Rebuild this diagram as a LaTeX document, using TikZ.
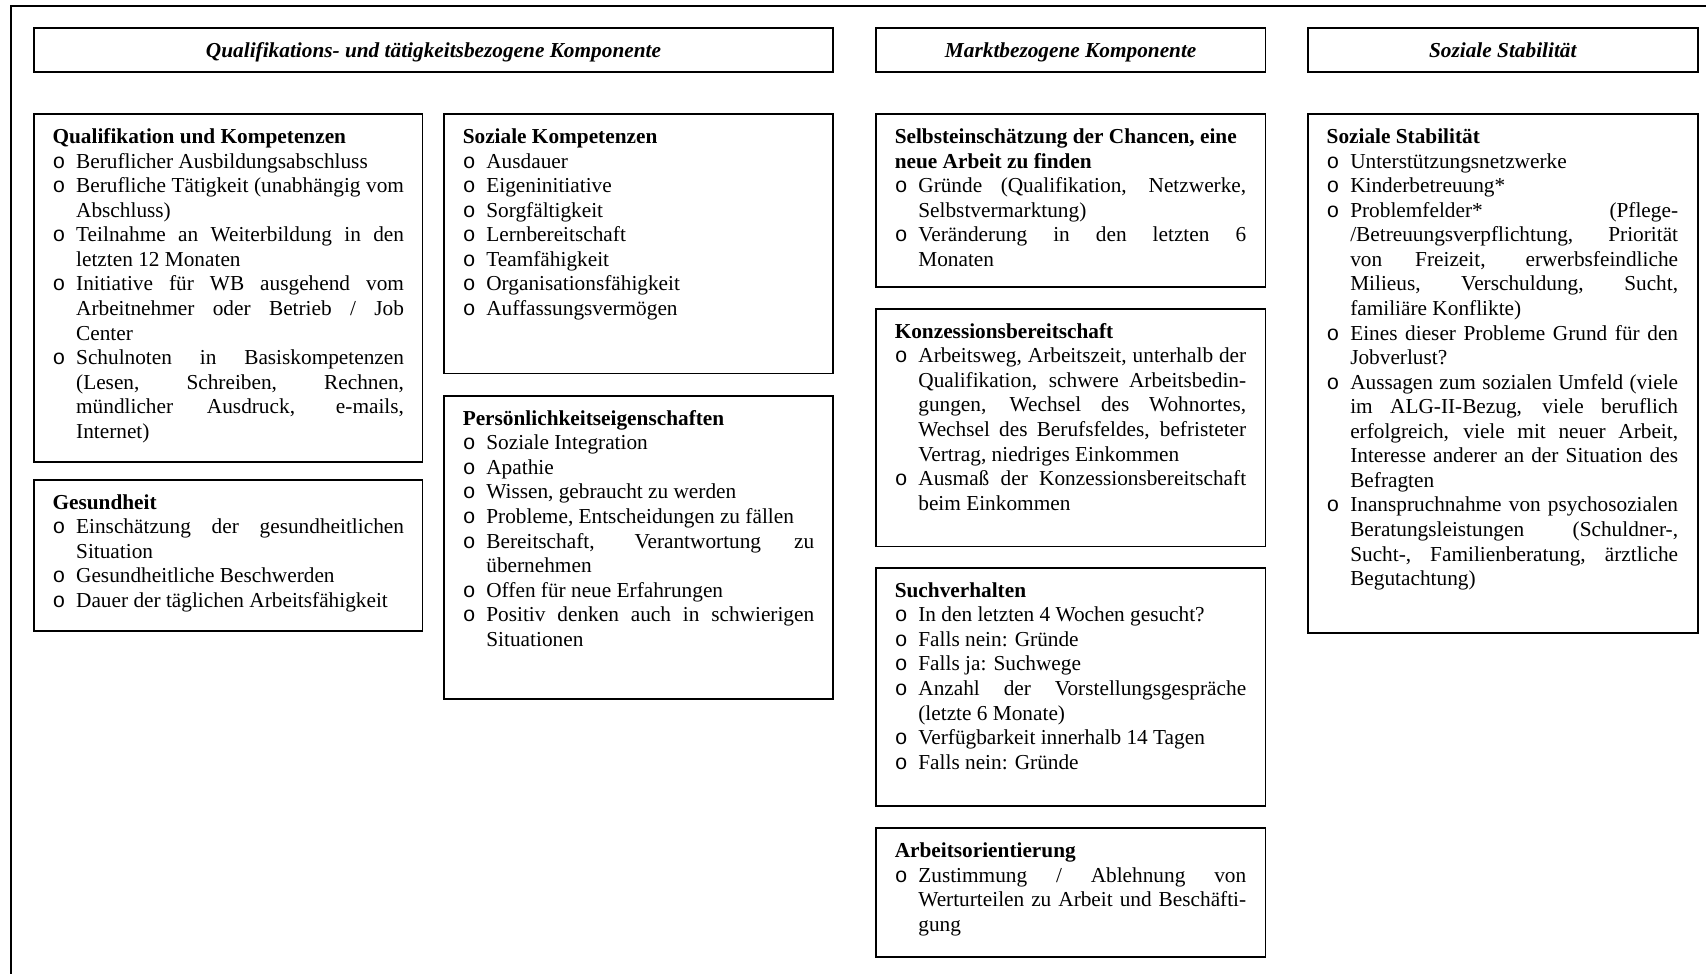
\documentclass[tikz,border=0pt]{standalone}
\usepackage{fontspec}
\setmainfont{Liberation Serif}
\newfontfamily\kreisfont{Liberation Mono}
\newcommand{\punkt}[1]{\par\hangindent=13.3pt\hangafter=1\noindent\makebox[13.3pt][l]{\kreisfont o}#1\par}

\begin{document}
\begin{tikzpicture}[x=0.5634pt,y=-0.5634pt,
  rahmen/.style={line width=1.1pt},
  kopf/.style={anchor=base,inner sep=0pt,font=\fontsize{12}{13.84}\selectfont\bfseries\itshape},
  inhalt/.style={anchor=base west,inner sep=0pt,text width=198pt,align=justify,
    font=\fontsize{12}{13.84}\selectfont,
    execute at begin node={\parskip=0pt\tolerance=10000\hyphenpenalty=10000}}]
  \useasboundingbox (0,0) rectangle (1706,974);
  \clip (0,0) rectangle (1706,974);
  \draw[rahmen] (11,6) rectangle (1740,1010);

  % Kopfzeilen
  \draw[rahmen] (33.7,28.3) rectangle (833.4,71.8);
  \draw[rahmen] (875.9,28.3) rectangle (1265.5,71.8);
  \draw[rahmen] (1307.8,28.3) rectangle (1697.8,71.8);
  \node[kopf] (kopfqual) at (433.5,58) {Qualifikations- und tätigkeitsbezogene Komponente};
  \node[kopf] (kopfmarkt) at (1070.7,58) {Marktbezogene Komponente};
  \node[kopf] (kopfsozial) at (1502.8,58) {Soziale Stabilität};

  % erste Spalte
  \draw[rahmen] (33.7,114.2) rectangle (422.5,462.4);
  \node[inhalt] (qualifikation) at (52.2,143.5) {\textbf{Qualifikation und Kompetenzen}
    \punkt{Beruflicher Ausbildungsabschluss}
    \punkt{Berufliche Tätigkeit (unabhängig vom\linebreak Abschluss)}
    \punkt{Teilnahme an Weiterbildung in den\linebreak letzten 12 Monaten}
    \punkt{Initiative für WB ausgehend vom\linebreak Arbeitnehmer oder Betrieb / Job\linebreak Center}
    \punkt{Schulnoten in Basiskompetenzen\linebreak (Lesen, Schreiben, Rechnen,\linebreak mündlicher Ausdruck, e-mails,\linebreak Internet)}};
  \draw[rahmen] (33.7,479.8) rectangle (422.5,631);
  \node[inhalt] (gesundheit) at (52.2,509.1) {\textbf{Gesundheit}
    \punkt{Einschätzung der gesundheitlichen\linebreak Situation}
    \punkt{Gesundheitliche Beschwerden}
    \punkt{Dauer der täglichen Arbeitsfähigkeit}};

  % zweite Spalte
  \draw[rahmen] (443.9,114.2) rectangle (833.4,373.5);
  \node[inhalt] (sozkomp) at (462.4,143.5) {\textbf{Soziale Kompetenzen}
    \punkt{Ausdauer}
    \punkt{Eigeninitiative}
    \punkt{Sorgfältigkeit}
    \punkt{Lernbereitschaft}
    \punkt{Teamfähigkeit}
    \punkt{Organisationsfähigkeit}
    \punkt{Auffassungsvermögen}};
  \draw[rahmen] (443.9,396) rectangle (833.4,699);
  \node[inhalt] (persoenlich) at (462.4,425.3) {\textbf{Persönlichkeitseigenschaften}
    \punkt{Soziale Integration}
    \punkt{Apathie}
    \punkt{Wissen, gebraucht zu werden}
    \punkt{Probleme, Entscheidungen zu fällen}
    \punkt{Bereitschaft, Verantwortung zu\linebreak übernehmen}
    \punkt{Offen für neue Erfahrungen}
    \punkt{Positiv denken auch in schwierigen\linebreak Situationen}};

  % dritte Spalte
  \draw[rahmen] (875.9,114.2) rectangle (1265.5,287);
  \node[inhalt] (chancen) at (894.4,143.5) {\textbf{Selbsteinschätzung der Chancen, eine\\ neue Arbeit zu finden}
    \punkt{Gründe (Qualifikation, Netzwerke,\linebreak Selbstvermarktung)}
    \punkt{Veränderung in den letzten 6\linebreak Monaten}};
  \draw[rahmen] (875.9,309) rectangle (1265.5,546.5);
  \node[inhalt] (konzession) at (894.4,338.3) {\textbf{Konzessionsbereitschaft}
    \punkt{Arbeitsweg, Arbeitszeit, unterhalb der\linebreak Qualifikation, schwere Arbeitsbedin-\linebreak gungen, Wechsel des Wohnortes,\linebreak Wechsel des Berufsfeldes, befristeter\linebreak Vertrag, niedriges Einkommen}
    \punkt{Ausmaß der Konzessionsbereitschaft\linebreak beim Einkommen}};
  \draw[rahmen] (875.9,568) rectangle (1265.5,806.2);
  \node[inhalt] (suche) at (894.4,597.3) {\textbf{Suchverhalten}
    \punkt{In den letzten 4 Wochen gesucht?}
    \punkt{Falls nein: Gründe}
    \punkt{Falls ja: Suchwege}
    \punkt{Anzahl der Vorstellungsgespräche\linebreak (letzte 6 Monate)}
    \punkt{Verfügbarkeit innerhalb 14 Tagen}
    \punkt{Falls nein: Gründe}};
  \draw[rahmen] (875.9,828.3) rectangle (1265.5,957.3);
  \node[inhalt] (orientierung) at (894.4,857.6) {\textbf{Arbeitsorientierung}
    \punkt{Zustimmung / Ablehnung von\linebreak Werturteilen zu Arbeit und Beschäfti-\linebreak gung}};

  % vierte Spalte
  \draw[rahmen] (1307.8,114.2) rectangle (1697.8,633);
  \node[inhalt] (stabil) at (1326.3,143.5) {\textbf{Soziale Stabilität}
    \punkt{Unterstützungsnetzwerke}
    \punkt{Kinderbetreuung*}
    \punkt{Problemfelder* (Pflege-\linebreak /Betreuungsverpflichtung, Priorität\linebreak von Freizeit, erwerbsfeindliche\linebreak Milieus, Verschuldung, Sucht,\linebreak familiäre Konflikte)}
    \punkt{Eines dieser Probleme Grund für den\linebreak Jobverlust?}
    \punkt{Aussagen zum sozialen Umfeld (viele\linebreak im ALG-II-Bezug, viele beruflich\linebreak erfolgreich, viele mit neuer Arbeit,\linebreak Interesse anderer an der Situation des\linebreak Befragten}
    \punkt{Inanspruchnahme von psychosozialen\linebreak Beratungsleistungen (Schuldner-,\linebreak Sucht-, Familienberatung, ärztliche\linebreak Begutachtung)}};
\end{tikzpicture}
\end{document}
